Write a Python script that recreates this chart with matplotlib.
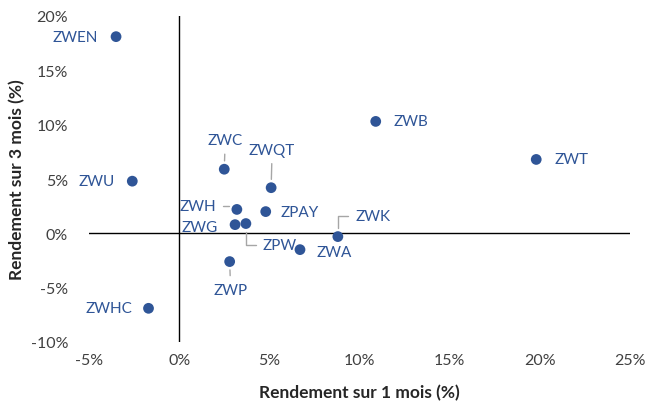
import matplotlib.pyplot as plt
from matplotlib.ticker import FuncFormatter

plt.rcParams['font.family'] = ['Lato', 'DejaVu Sans']

# rendements (%)
tickers = ['ZWEN', 'ZWU', 'ZWHC', 'ZWC', 'ZWQT', 'ZWH', 'ZWG', 'ZPW',
           'ZPAY', 'ZWK', 'ZWA', 'ZWP', 'ZWB', 'ZWT']
ret_1m = [-3.5, -2.6, -1.7, 2.5, 5.1, 3.2, 3.1, 3.7, 4.8, 8.8, 6.7, 2.8, 10.9, 19.8]
ret_3m = [18.1, 4.8, -6.9, 5.9, 4.2, 2.2, 0.8, 0.9, 2.0, -0.3, -1.5, -2.6, 10.3, 6.8]

# decalage des etiquettes en pixels (dx, dy)
label_offsets = {
    'ZWEN': (-41, 0), 'ZWU': (-36, 0), 'ZWHC': (-40, 0),
    'ZWC': (1, 29), 'ZWQT': (1, 38), 'ZWH': (-39, 3), 'ZWG': (-35, -2),
    'ZPW': (34, -21), 'ZPAY': (34, 0), 'ZWK': (35, 21), 'ZWA': (34, -2),
    'ZWP': (1, -28), 'ZWB': (35, 0), 'ZWT': (35, 0),
}
straight = {'ZWC', 'ZWQT', 'ZWP'}
elbow = {'ZWH', 'ZPW', 'ZWK'}

blue = '#2f5597'
grey_txt = '#404040'

fig = plt.figure(figsize=(6.48, 4.06), dpi=100)
ax = fig.add_axes([89 / 648, 1 - 343 / 406, (630 - 89) / 648, (343 - 17) / 406])

ax.set_xlim(-5, 25)
ax.set_ylim(-10, 20)
ax.set_xticks(range(-5, 26, 5))
ax.set_yticks(range(-10, 21, 5))
pct = FuncFormatter(lambda v, p: f'{v:.0f}%')
ax.xaxis.set_major_formatter(pct)
ax.yaxis.set_major_formatter(pct)
ax.tick_params(length=0, labelsize=11.5, colors=grey_txt)
ax.tick_params(axis='y', pad=15)
ax.tick_params(axis='x', pad=8)
for s in ax.spines.values():
    s.set_visible(False)
ax.axhline(0, color='black', lw=1, zorder=1)
ax.axvline(0, color='black', lw=1, zorder=1)

ax.scatter(ret_1m, ret_3m, s=60, color=blue, zorder=3, edgecolors='none')

for name, x, y in zip(tickers, ret_1m, ret_3m):
    dx, dy = label_offsets[name]
    props = None
    if name in straight:
        props = dict(arrowstyle='-', color='#a6a6a6', lw=1, shrinkA=3, shrinkB=6)
    elif name in elbow:
        props = dict(arrowstyle='-', color='#a6a6a6', lw=1, shrinkA=3, shrinkB=6,
                     connectionstyle='angle,angleA=0,angleB=90,rad=0')
    ax.annotate(name, (x, y), xytext=(dx, dy), textcoords='offset pixels',
                ha='center', va='center', fontsize=11, color=blue,
                arrowprops=props, zorder=4)

ax.set_xlabel('Rendement sur 1 mois (%)', fontsize=12.5, fontweight='bold',
              color='#262626', labelpad=12)
ax.set_ylabel('Rendement sur 3 mois (%)', fontsize=12.5, fontweight='bold',
              color='#262626', labelpad=4)

fig.savefig('out.png', dpi=100)
